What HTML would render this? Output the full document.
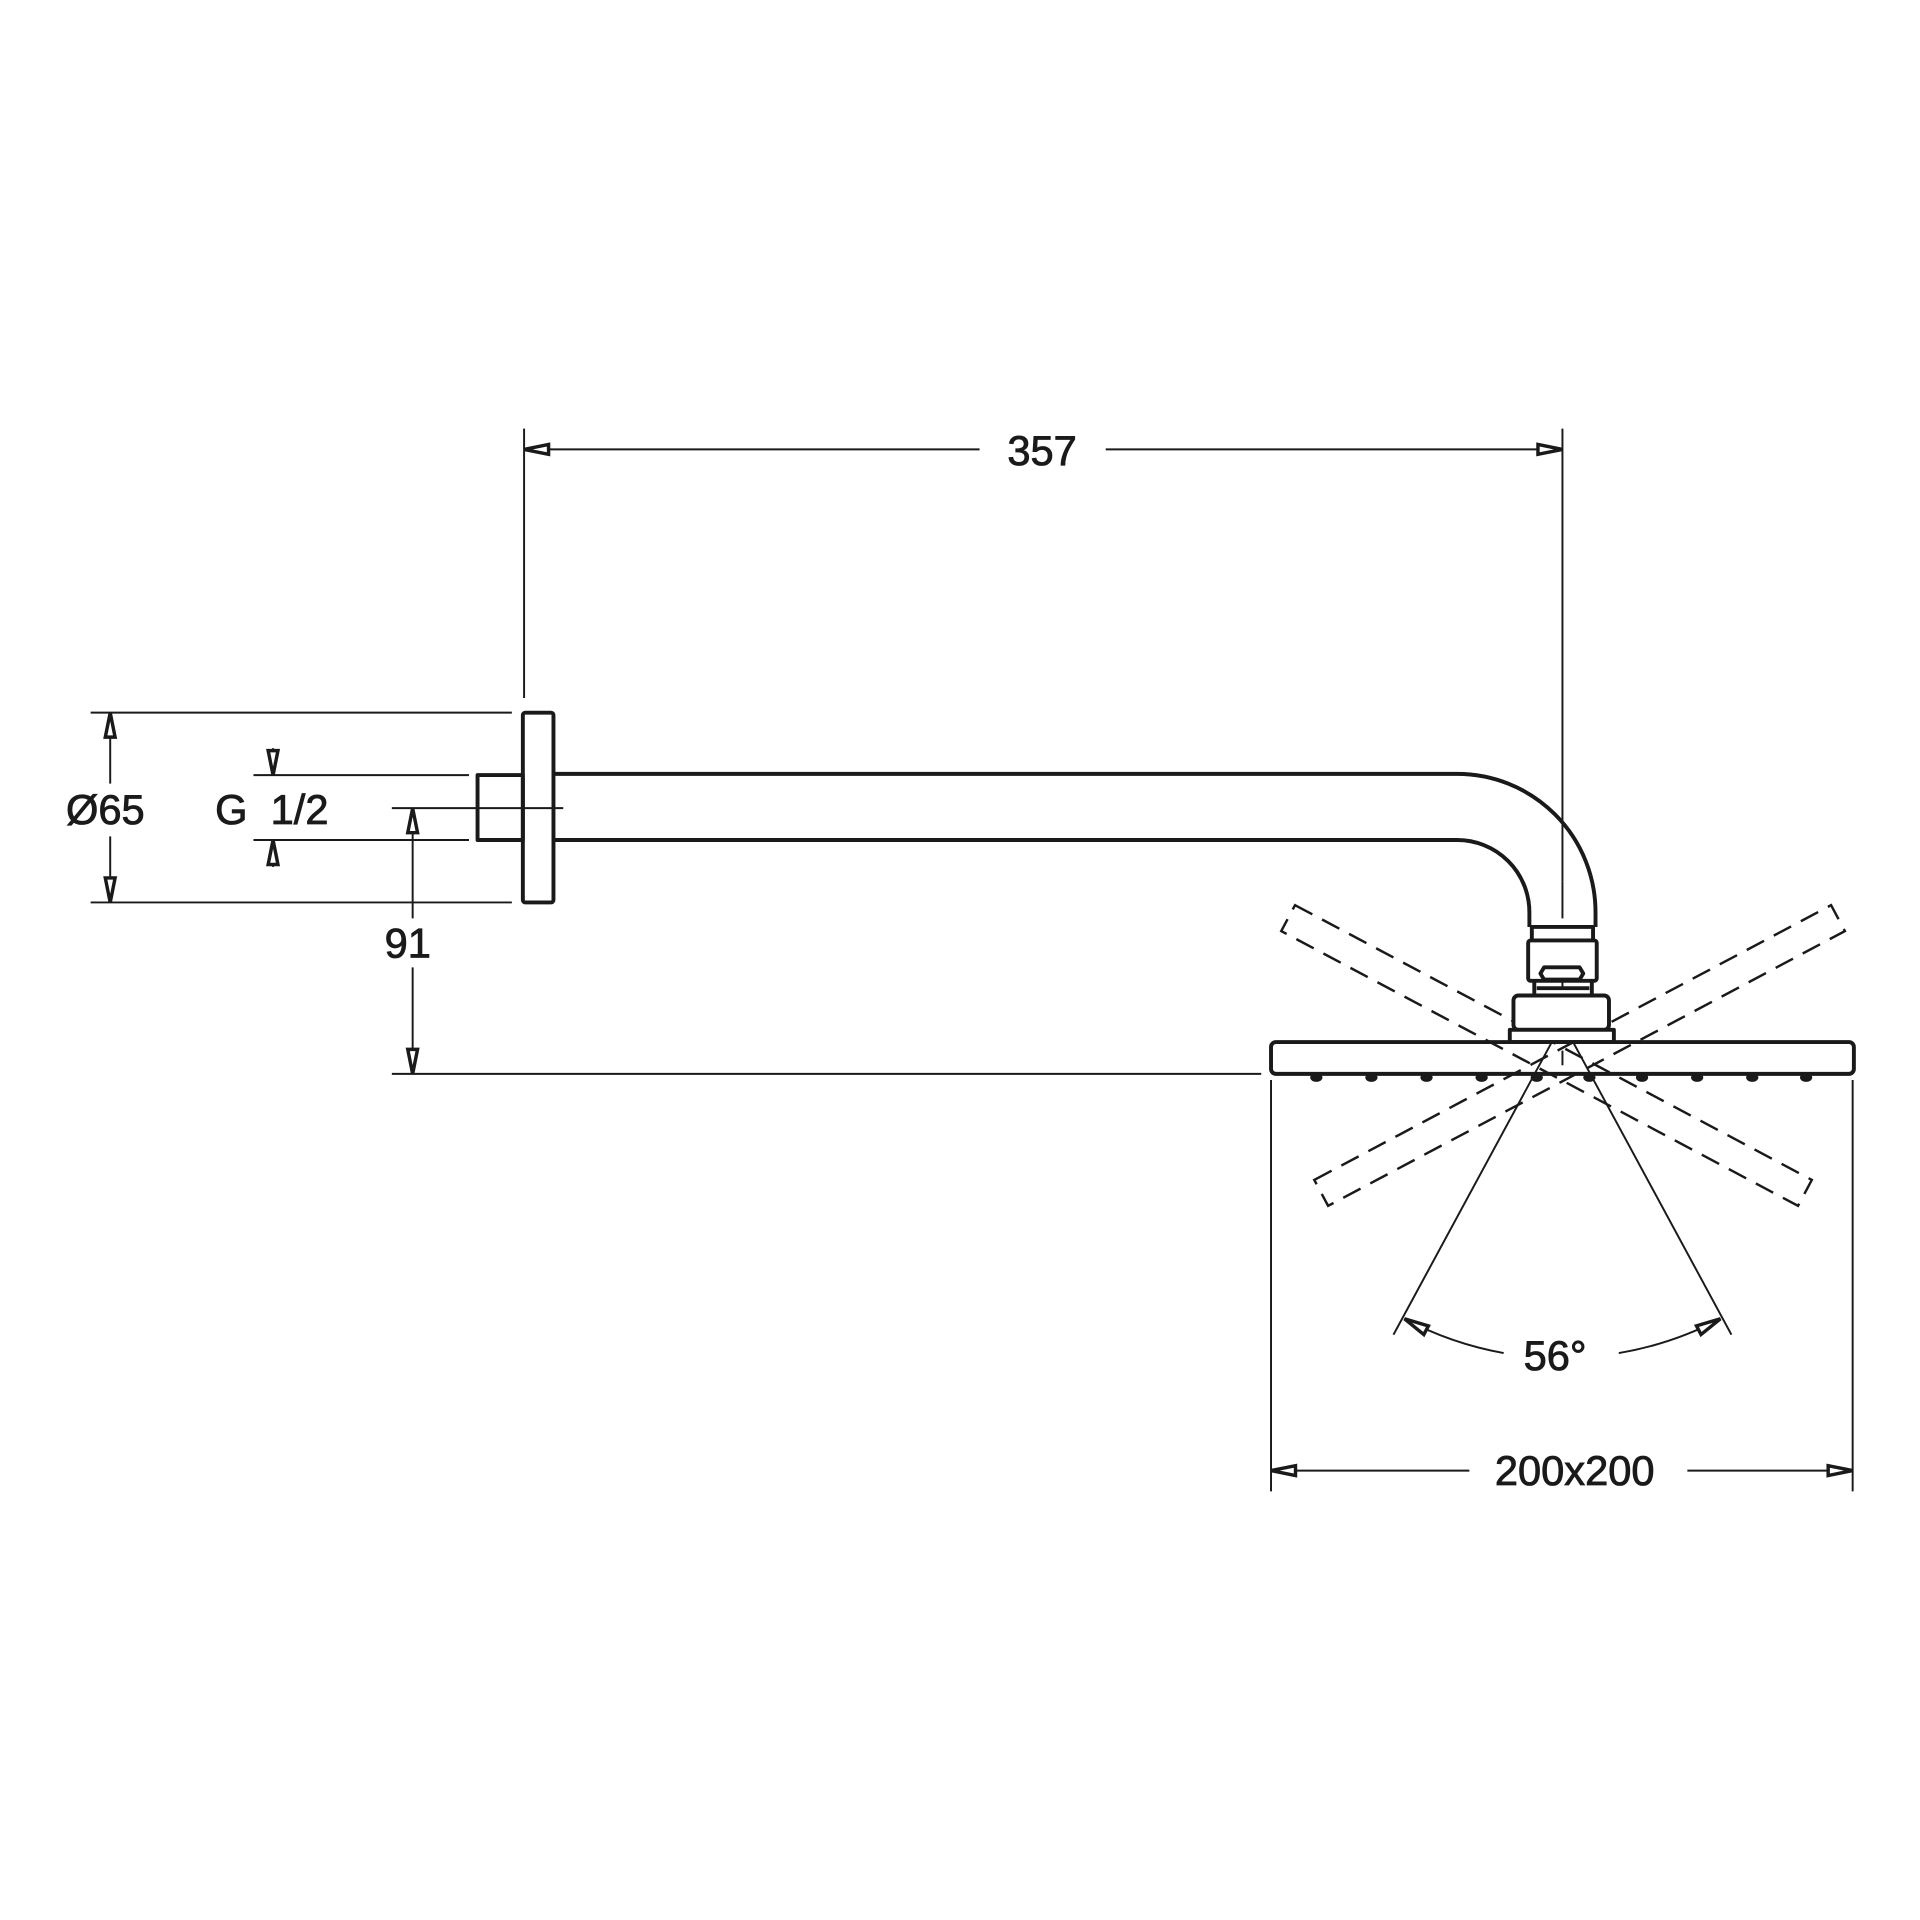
<!DOCTYPE html>
<html><head><meta charset="utf-8"><style>
html,body{margin:0;padding:0;background:#fff}
svg{display:block}
text{font-family:"Liberation Sans",sans-serif;font-size:34px;fill:#1a1a1a;stroke:#1a1a1a;stroke-width:0.7;text-anchor:middle;dominant-baseline:central}
</style></head><body>
<svg width="1920" height="1920" viewBox="0 0 1568 1568" xmlns="http://www.w3.org/2000/svg">
<defs>
<marker id="a" markerUnits="userSpaceOnUse" markerWidth="24" markerHeight="14" refX="22" refY="7" orient="auto-start-reverse">
<path d="M2,3 L22,7 L2,11 Z" fill="#fff" stroke="#1a1a1a" stroke-width="2.8" stroke-linejoin="miter"/>
</marker>
</defs>
<g stroke="#1a1a1a" fill="none" stroke-linecap="butt">
<g stroke-width="1.6">
<line x1="428" y1="350" x2="428" y2="570"/>
<line x1="1276" y1="350" x2="1276" y2="720"/>
<line x1="1276" y1="720" x2="1276" y2="870" stroke-dasharray="30,6,4,6"/>
<line x1="428" y1="367" x2="800" y2="367" marker-start="url(#a)"/>
<line x1="903" y1="367" x2="1276" y2="367" marker-end="url(#a)"/>
<line x1="74" y1="582" x2="418" y2="582"/>
<line x1="74" y1="737" x2="418" y2="737"/>
<line x1="90" y1="582" x2="90" y2="640" marker-start="url(#a)"/>
<line x1="90" y1="683" x2="90" y2="737" marker-end="url(#a)"/>
<line x1="207" y1="633" x2="383" y2="633"/>
<line x1="207" y1="686" x2="383" y2="686"/>
<line x1="223" y1="611" x2="223" y2="633" marker-end="url(#a)"/>
<line x1="223" y1="708" x2="223" y2="686" marker-end="url(#a)"/>
<line x1="320" y1="660" x2="460" y2="660"/>
<line x1="337" y1="660" x2="337" y2="750" marker-start="url(#a)"/>
<line x1="337" y1="790" x2="337" y2="877" marker-end="url(#a)"/>
<line x1="320" y1="877" x2="1030" y2="877"/>
<line x1="1038" y1="882" x2="1038" y2="1218"/>
<line x1="1513" y1="882" x2="1513" y2="1218"/>
<line x1="1038" y1="1201" x2="1200" y2="1201" marker-start="url(#a)"/>
<line x1="1378" y1="1201" x2="1513" y2="1201" marker-end="url(#a)"/>
<line x1="1276" y1="835" x2="1138" y2="1090"/>
<line x1="1276" y1="835" x2="1414" y2="1090"/>
<path d="M1147,1077 A276,276 0 0 0 1228,1105" marker-start="url(#a)"/>
<path d="M1322,1105 A276,276 0 0 0 1405,1077" marker-end="url(#a)"/>
</g>
<g stroke-width="2" stroke-dasharray="16,9">
<rect x="1024" y="850" width="478" height="24" transform="rotate(28 1263 862)"/>
<rect x="1051" y="850" width="478" height="24" transform="rotate(-28 1290 862)"/>
</g>
<g stroke-width="3.2" stroke-linejoin="round">
<rect x="427" y="582" width="25" height="155" rx="2"/>
<rect x="390" y="633" width="37" height="53"/>
<path d="M452,632 L1190,632 A113,113 0 0 1 1303,745 L1303,757"/>
<path d="M452,686 L1190,686 A59,59 0 0 1 1249,745 L1249,757"/>
<rect x="1251" y="757" width="50" height="11" fill="#fff"/>
<rect x="1248" y="768" width="56" height="33" rx="2" fill="#fff"/>
<path d="M1261,790 L1290,790 L1293,795 L1290,800 L1261,800 L1258,795 Z"/>
<path d="M1253,801 L1253,812 M1300,801 L1300,812 M1255,807 L1298,807"/>
<rect x="1236" y="813" width="78" height="28" rx="4" fill="#fff"/>
<rect x="1233" y="841" width="85" height="10" fill="#fff"/>
<rect x="1038" y="851" width="476" height="26" rx="4"/>
</g>
<g fill="#1a1a1a" stroke="none">
<ellipse cx="1075" cy="880" rx="5" ry="3.5"/><ellipse cx="1120" cy="880" rx="5" ry="3.5"/>
<ellipse cx="1165" cy="880" rx="5" ry="3.5"/><ellipse cx="1210" cy="880" rx="5" ry="3.5"/>
<ellipse cx="1255" cy="880" rx="5" ry="3.5"/><ellipse cx="1298" cy="880" rx="5" ry="3.5"/>
<ellipse cx="1341" cy="880" rx="5" ry="3.5"/><ellipse cx="1386" cy="880" rx="5" ry="3.5"/>
<ellipse cx="1431" cy="880" rx="5" ry="3.5"/><ellipse cx="1475" cy="880" rx="5" ry="3.5"/>
</g>
</g>
<text x="851" y="368">357</text>
<text x="86" y="661">Ø65</text>
<text x="222" y="661" xml:space="preserve">G  1/2</text>
<text x="333" y="770">91</text>
<text x="1270" y="1107">56°</text>
<text x="1286" y="1201">200x200</text>
</svg>
</body></html>
